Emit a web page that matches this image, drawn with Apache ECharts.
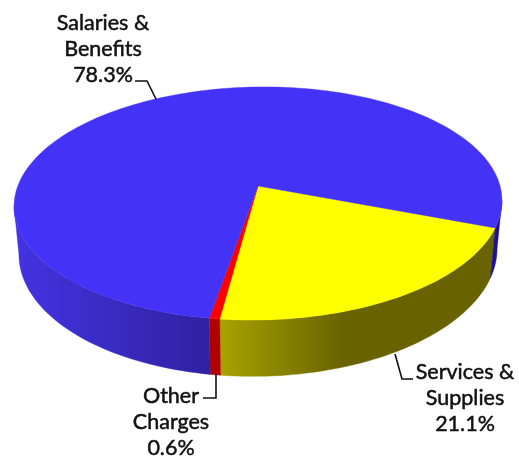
<!DOCTYPE html>
<html><head><meta charset="utf-8">
<script src="https://cdn.jsdelivr.net/npm/echarts@6/dist/echarts.min.js"></script>
<style>html,body{margin:0;padding:0;background:#fff}#c{width:519px;height:460px}</style>
</head><body><div id="c"></div>
<script>
// Data, clockwise from the start angle
const categories = ['Services & Supplies', 'Other Charges', 'Salaries & Benefits'];
const values = [21.1, 0.6, 78.3];
const labelLines = [['Services &', 'Supplies'], ['Other', 'Charges'], ['Salaries &', 'Benefits']];

// Styles and projection (separate from the data)
const topColors = ['#FFFF00', '#FF0000', '#4433F6'];
const G = echarts.graphic.LinearGradient;
const wallColors = [
  new G(220, 0, 345, 0, [{offset:0,color:'#A8A300'},{offset:.45,color:'#8A8500'},{offset:1,color:'#686200'}], true),
  '#B00000',
  new G(14, 0, 502, 0, [{offset:0,color:'#4333E2'},{offset:.41,color:'#2F21A0'},{offset:.42,color:'#2F21A0'},{offset:1,color:'#1E128E'}], true)
];
const P = {ax:258, ay:186, b:241.2, a:113.9, k:0.15, s:0.98, H:47, pow:1.4, start:21.8, shear:0.012};
const labelLayout = [
  {x:465, y:[372,398,424], line:[[395,354],[402,379],[413,379]]},
  {x:171, y:[396,422,448], line:[[216,374],[216,398],[203,398]]},
  {x:103, y:[23,49,75],    line:[[135,81],[147,81],[156,99]]}
];

function project(deg) {
  const t = deg * Math.PI / 180, u = Math.cos(t), v = Math.sin(t), w = 1 - P.k * v;
  const x = P.b * u / w;
  return {x, y: P.a * v / w - P.shear * x, w};
}
const topPt = d => { const p = project(d); return [P.ax + p.x, P.ay + p.y]; };
const botPt = d => { const p = project(d); return [P.ax + p.x * P.s, P.ay + p.y * P.s + P.H / Math.pow(p.w, P.pow)]; };
function arc(a, b, fn) {
  const n = Math.max(2, Math.ceil((b - a) / 1.5)), out = [];
  for (let i = 0; i <= n; i++) out.push(fn(a + (b - a) * i / n));
  return out;
}
const total = values.reduce((s, x) => s + x, 0);
function range(i) {
  let a = P.start;
  for (let j = 0; j < i; j++) a += values[j] / total * 360;
  return [a, a + values[i] / total * 360];
}
// The wall is visible between the two side extremes of the projected disc
const edge = Math.asin(P.k) * 180 / Math.PI;
const windows = [[edge, 180 - edge], [360 + edge, 540 - edge]];

function renderWall(params, api) {
  const i = params.dataIndex, [a, b] = range(i), children = [];
  windows.forEach(([lo, hi]) => {
    const s = Math.max(a, lo), e = Math.min(b, hi);
    if (e <= s) return;
    const points = arc(s, e, topPt).concat(arc(s, e, botPt).reverse());
    const fill = wallColors[i];
    children.push({type:'polygon', shape:{points}, style:{fill, stroke:fill, lineWidth:0.4}});
  });
  return {type:'group', children};
}
function renderTop(params, api) {
  const i = params.dataIndex, [a, b] = range(i);
  const points = [[P.ax, P.ay]].concat(arc(a, b, topPt));
  return {type:'polygon', shape:{points}, style:{fill:topColors[i], stroke:topColors[i], lineWidth:0.4}};
}
function renderLabel(params, api) {
  const i = params.dataIndex, L = labelLayout[i], pct = api.value(0).toFixed(1) + '%';
  const lines = labelLines[i].concat(pct);
  const children = lines.map((t, j) => ({
    type:'text',
    style:{text:t, x:L.x, y:L.y[j], align:'center', verticalAlign:'middle',
           fill:'#111', stroke:'#111', lineWidth:0.5, font:'21.5px Lato, "Noto Sans", sans-serif'}
  }));
  children.push({type:'polyline', shape:{points:L.line}, style:{fill:'none', stroke:'#111', lineWidth:1.6}});
  return {type:'group', children};
}

const chart = echarts.init(document.getElementById('c'), null, {renderer:'canvas'});
chart.setOption({
  animation:false,
  backgroundColor:'#fff',
  series:[
    {type:'custom', coordinateSystem:'none', name:'wall', data:values, renderItem:renderWall, silent:true, z:1},
    {type:'custom', coordinateSystem:'none', name:'top',  data:values, renderItem:renderTop,  silent:true, z:2},
    {type:'custom', coordinateSystem:'none', name:'labels', data:values, renderItem:renderLabel, silent:true, z:3}
  ]
});
</script></body></html>
